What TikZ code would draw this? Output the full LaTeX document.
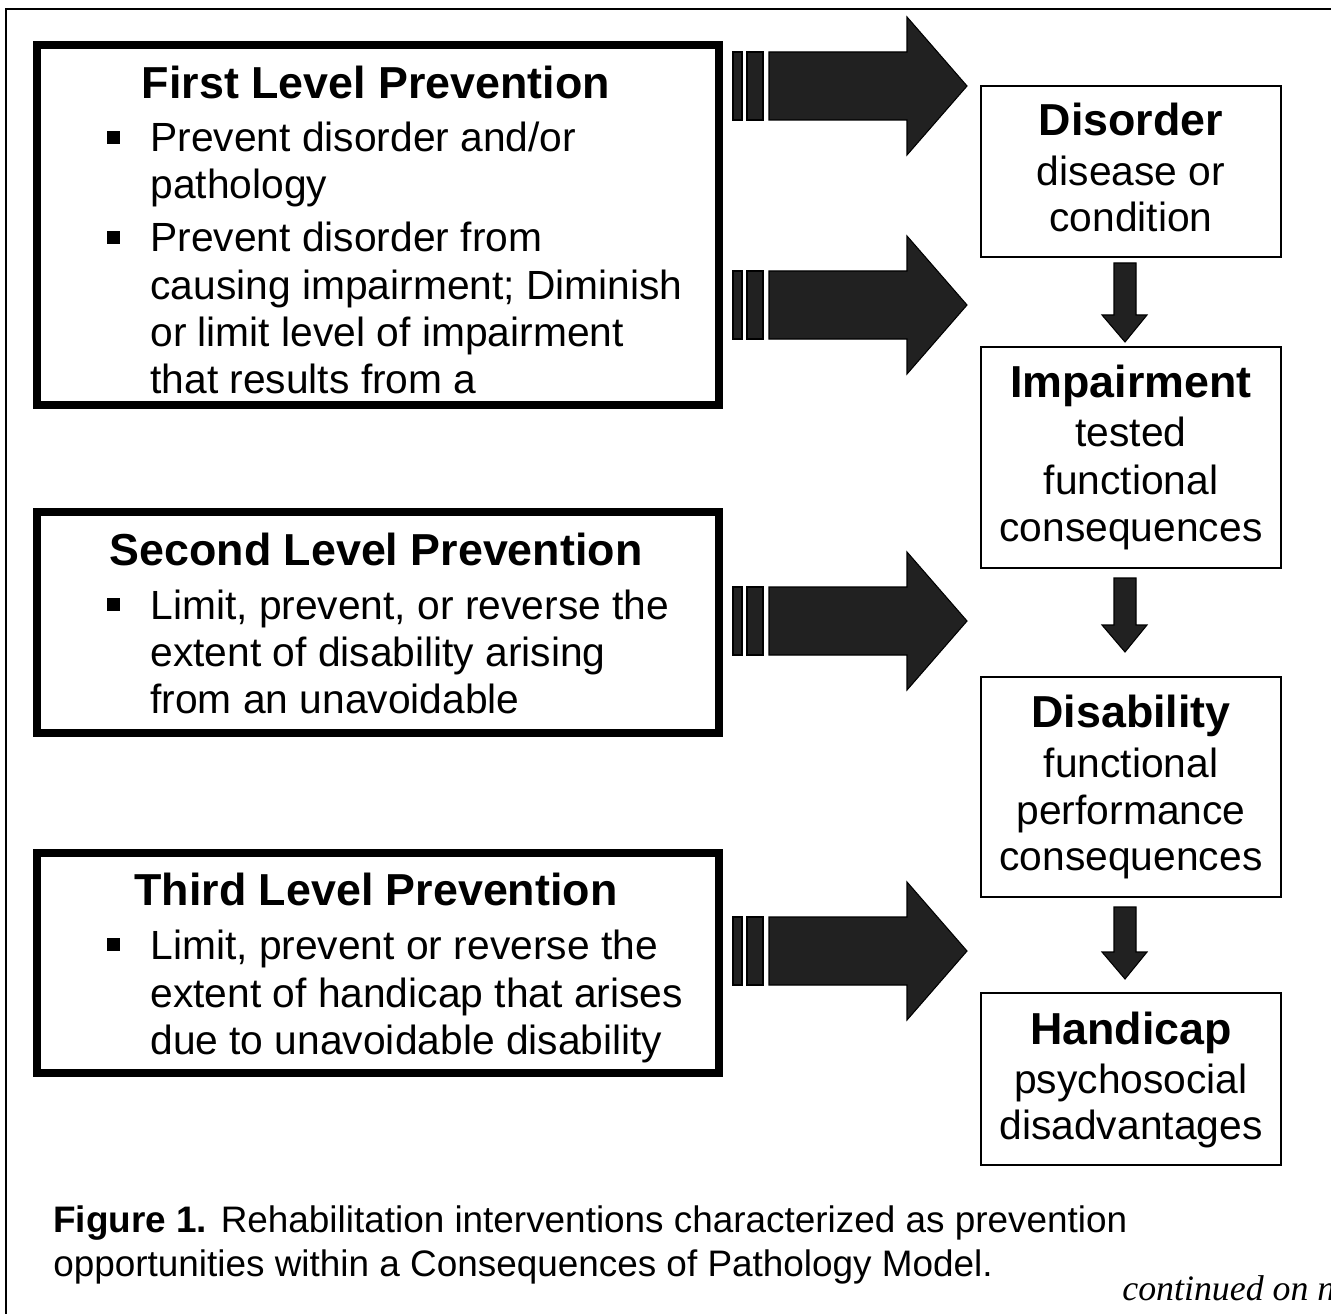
\documentclass[tikz,border=0pt]{standalone}
\usepackage{fontspec}
\setmainfont{Liberation Sans}
\newfontfamily\contfont{Liberation Serif}
\usepackage{tikz}
\usetikzlibrary{calc,positioning}
\tikzset{prevbox/.style={draw,line width=4.5pt,minimum width=13.64cm,inner sep=0pt},
  stagebox/.style={draw,line width=1.1pt,minimum width=6cm,inner sep=0pt},
  ttl/.style={font=\fontsize{25.5}{30}\selectfont\bfseries,inner sep=0pt,anchor=base},
  txt/.style={font=\fontsize{23.2}{27}\selectfont,inner sep=0pt,anchor=base west},
  mid/.style={font=\fontsize{23.2}{27}\selectfont,inner sep=0pt,anchor=base},
  captxt/.style={font=\fontsize{21}{25}\selectfont,inner sep=0pt,anchor=base west},
  blk/.style={fill=black!87,draw=black,line width=0.6pt}}
\newcommand{\bigarrow}[1]{%
  \draw[blk] (733,#1-34) rectangle (742,#1+34);
  \draw[blk] (747,#1-34) rectangle (763,#1+34);
  \draw[blk] (769,#1-34) -- (907,#1-34) -- (907,#1-69) -- (967,#1) -- (907,#1+69) -- (907,#1+34) -- (769,#1+34) -- cycle;}
\newcommand{\dnarrow}[2]{%
  \draw[blk] (1114,#1) -- (1136,#1) -- (1136,#2-27) -- (1147,#2-27) -- (1125,#2) -- (1102,#2-27) -- (1114,#2-27) -- cycle;}
\newcommand{\sqbullet}{\rule[0.2em]{0.32em}{0.32em}}
\begin{document}
\begin{tikzpicture}[x=0.02cm,y=-0.02cm,line join=miter]
\useasboundingbox (0,0) rectangle (1331,1314);
% --- outer frame, runs off the page at right and bottom
\draw[line width=1.4pt] (6,1314) -- (6,9) -- (1331,9);
% --- prevention levels (left)
\node[prevbox,minimum height=7.2cm] (lvl1) at (378,225) {};
\node[prevbox,minimum height=4.42cm] (lvl2) at (378,622.5) {};
\node[prevbox,minimum height=4.4cm] (lvl3) at (378,963) {};
\node[ttl] (lvl1t) at (376,99) {First Level Prevention};
\node[txt] (lvl1b1) at (107,152) {\sqbullet}; \node[txt] (lvl1b2) at (107,252) {\sqbullet};
\foreach \yy/\tx [count=\i] in {152/{Prevent disorder and/or},199/{pathology},252/{Prevent disorder from},299/{causing impairment; Diminish},346/{or limit level of impairment},393/{that results from a}}
  \node[txt] (lvl1l\i) at (150,\yy) {\tx};
\node[ttl] (lvl2t) at (376,565) {Second Level Prevention};
\node[txt] (lvl2b1) at (107,619) {\sqbullet};
\foreach \yy/\tx [count=\i] in {619/{Limit, prevent, or reverse the},666/{extent of disability arising},713/{from an unavoidable}}
  \node[txt] (lvl2l\i) at (150,\yy) {\tx};
\node[ttl] (lvl3t) at (376,905) {Third Level Prevention};
\node[txt] (lvl3b1) at (107,959) {\sqbullet};
\foreach \yy/\tx [count=\i] in {959/{Limit, prevent or reverse the},1007/{extent of handicap that arises},1054/{due to unavoidable disability}}
  \node[txt] (lvl3l\i) at (150,\yy) {\tx};
% --- consequences (right)
\node[stagebox,minimum height=3.42cm] (disorder) at (1131,171.5) {};
\node[stagebox,minimum height=4.42cm] (impair) at (1131,457.5) {};
\node[stagebox,minimum height=4.4cm] (disab) at (1131,787) {};
\node[stagebox,minimum height=3.44cm] (handi) at (1131,1079) {};
\node[ttl] (disordert) at (1131,136) {Disorder};
\node[mid] (disorder1) at (1131,186) {disease or}; \node[mid] (disorder2) at (1131,232) {condition};
\node[ttl] (impairt) at (1131,397) {Impairment};
\node[mid] (impair1) at (1131,446) {tested}; \node[mid] (impair2) at (1131,494) {functional};
\node[mid] (impair3) at (1131,541) {consequences};
\node[ttl] (disabt) at (1131,727) {Disability};
\node[mid] (disab1) at (1131,777) {functional}; \node[mid] (disab2) at (1131,824) {performance};
\node[mid] (disab3) at (1131,870) {consequences};
\node[ttl] (handit) at (1131,1044) {Handicap};
\node[mid] (handi1) at (1131,1093) {psychosocial}; \node[mid] (handi2) at (1131,1139) {disadvantages};
% --- block arrows
\bigarrow{86} \bigarrow{305} \bigarrow{621} \bigarrow{951}
\dnarrow{263}{342} \dnarrow{578}{652} \dnarrow{907}{979}
% --- caption
\node[captxt] (capa) at (53,1232) {\textbf{Figure 1.} Rehabilitation interventions characterized as prevention};
\node[captxt] (capb) at (53,1276) {opportunities within a Consequences of Pathology Model.};
\node[font=\contfont\itshape\fontsize{20.4}{24}\selectfont,inner sep=0pt,anchor=base west] (cont) at (1122,1300) {continued on n};
\end{tikzpicture}
\end{document}
